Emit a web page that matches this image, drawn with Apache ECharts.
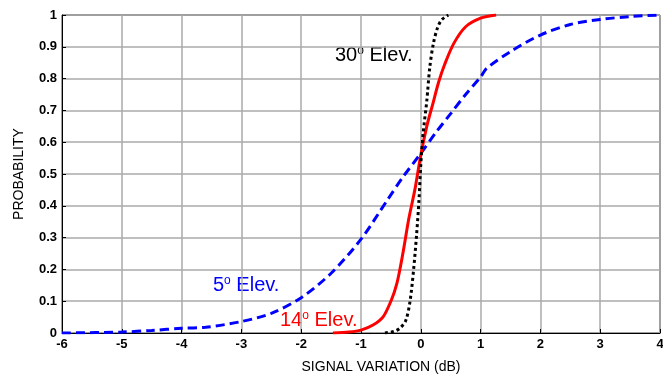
<!DOCTYPE html>
<html lang="en">
<head>
    <meta charset="UTF-8">
    <title>Signal variation</title>
    <script src="https://cdn.jsdelivr.net/npm/echarts@6/dist/echarts.min.js"></script>
    <style>
        html, body {margin: 0; padding: 0; background: #fff;}
        #chart {width: 663px; height: 374px;}
    </style>
</head>
<body>
<div id="chart"></div>
<script>
    // 5 deg elevation (blue dashed)
    const elev5X = [-6, -5, -4.5, -4, -3.6, -3, -2.5, -2, -1.5, -1, -0.56, -0.3, 0, 0.25, 0.5, 0.75, 1.0, 1.1, 1.5, 2.0, 2.5, 3.0, 3.5, 4.0]
    const elev5Y = [0, 0.003, 0.008, 0.015, 0.018, 0.036, 0.062, 0.111, 0.188, 0.295, 0.418, 0.49, 0.565, 0.63, 0.69, 0.75, 0.805, 0.832, 0.885, 0.937, 0.97, 0.986, 0.995, 1.0]
    // 14 deg elevation (red solid)
    const elev14X = [-1.47, -1.2, -1.0, -0.8, -0.63, -0.5, -0.4, -0.3, -0.2, -0.1, 0, 0.1, 0.2, 0.3, 0.4, 0.55, 0.75, 1.0, 1.26]
    const elev14Y = [0, 0.003, 0.009, 0.025, 0.051, 0.1, 0.156, 0.25, 0.36, 0.45, 0.56, 0.65, 0.72, 0.79, 0.845, 0.91, 0.963, 0.99, 1.0]
    // 30 deg elevation (black dotted)
    const elev30X = [-0.6, -0.45, -0.35, -0.25, -0.18, -0.12, -0.07, -0.03, 0, 0.04, 0.1, 0.15, 0.21, 0.28, 0.35, 0.46]
    const elev30Y = [0, 0.005, 0.015, 0.04, 0.1, 0.2, 0.31, 0.42, 0.53, 0.63, 0.73, 0.835, 0.91, 0.96, 0.985, 1.0]

    const zip = (xs, ys) => xs.map((x, i) => [x, ys[i]])

    const font = 'Arial, "Liberation Sans", sans-serif'
    const label = (txt, color, x, y) => ({
        type: 'text',
        x: x,
        y: y,
        style: {
            text: '{a|' + txt[0] + '}{s|o}{a| ' + txt[1] + '}',
            rich: {
                a: {fontSize: 20, fontFamily: font, fill: color, color: color},
                s: {fontSize: 12, fontFamily: font, fill: color, color: color, padding: [0, 0, 9, 0]}
            }
        }
    })

    let myChart = echarts.init(document.getElementById('chart'))
    let option = {
        animation: false,
        backgroundColor: '#fff',
        grid: {
            left: 62,
            right: 3,
            top: 15,
            bottom: 41,
            outerBoundsMode: 'none',
            containLabel: false,
            show: true,
            borderColor: '#000',
            borderWidth: 1
        },
        xAxis: {
            type: 'value',
            min: -6,
            max: 4,
            interval: 1,
            name: 'SIGNAL VARIATION (dB)',
            nameLocation: 'middle',
            nameGap: 27,
            nameTextStyle: {fontSize: 14, color: '#000', fontFamily: font, padding: [0, 0, 0, 40]},
            axisLine: {lineStyle: {color: '#000'}},
            axisTick: {inside: true, length: 4, lineStyle: {color: '#000'}},
            axisLabel: {fontSize: 13, fontWeight: 'bold', color: '#000', fontFamily: font, margin: 5},
            splitLine: {lineStyle: {color: '#aaaaaa', width: 1.5}}
        },
        yAxis: {
            type: 'value',
            min: 0,
            max: 1,
            interval: 0.1,
            name: 'PROBABILITY',
            nameLocation: 'middle',
            nameGap: 36,
            nameTextStyle: {fontSize: 14, color: '#000', fontFamily: font},
            axisLine: {show: true, onZero: false, lineStyle: {color: '#000'}},
            axisTick: {inside: true, length: 4, lineStyle: {color: '#000'}},
            axisLabel: {fontSize: 13, fontWeight: 'bold', color: '#000', fontFamily: font, margin: 5},
            splitLine: {lineStyle: {color: '#aaaaaa', width: 1.5}}
        },
        series: [
            {
                name: '5 Elev.',
                type: 'line',
                data: zip(elev5X, elev5Y),
                symbol: 'none',
                smooth: 0.3,
                lineStyle: {color: '#0000ff', width: 3, type: [9, 5]}
            },
            {
                name: '14 Elev.',
                type: 'line',
                data: zip(elev14X, elev14Y),
                symbol: 'none',
                smooth: 0.3,
                lineStyle: {color: '#ff0000', width: 3}
            },
            {
                name: '30 Elev.',
                type: 'line',
                data: zip(elev30X, elev30Y),
                symbol: 'none',
                smooth: 0.3,
                lineStyle: {color: '#000', width: 3, type: [3, 3]}
            }
        ],
        graphic: [
            label(['30', 'Elev.'], '#000', 335, 45),
            label(['5', 'Elev.'], '#0000ff', 213, 275),
            label(['14', 'Elev.'], '#ff0000', 280, 310)
        ]
    };
    myChart.setOption(option)
</script>
</body>
</html>
